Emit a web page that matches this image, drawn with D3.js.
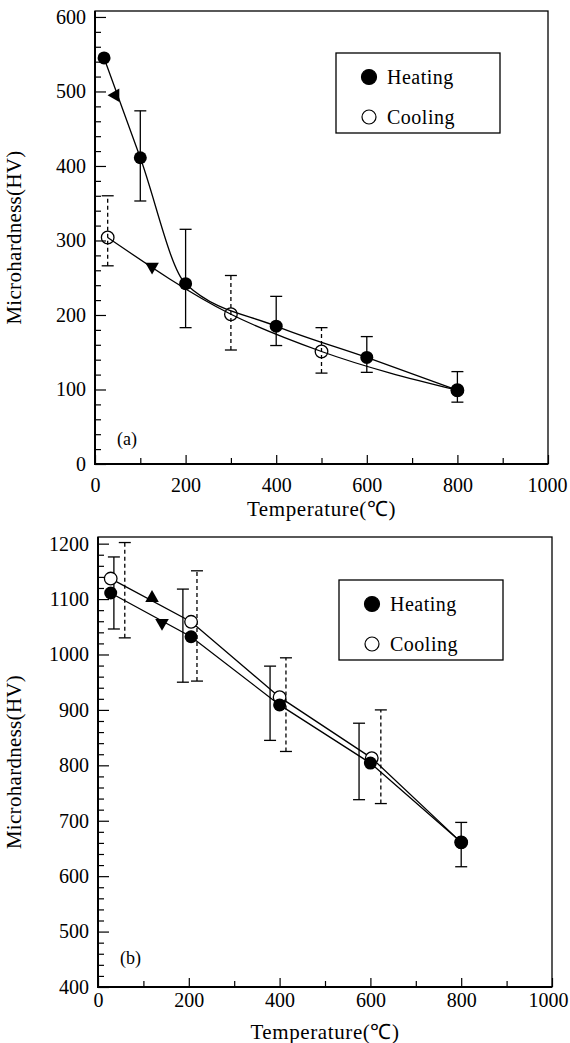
<!DOCTYPE html>
<html>
<head>
<meta charset="utf-8">
<script src="https://cdn.jsdelivr.net/npm/d3@7"></script>
<style>
  body { margin: 0; background: #fff; }
  svg { display: block; }
</style>
</head>
<body>
<div id="graphDiv"></div>
<script>
// ---- data, panel (a)
const tempHeatA = [20, 100, 200, 400, 600, 800]
const hvHeatA = [545, 411, 242, 185, 143, 99]
const errHeatA = [null, [353, 474], [183, 315], [159, 225], [123, 171], [83, 124]]

const tempCoolA = [28, 300, 500, 800]
const hvCoolA = [304, 201, 151, 99]
const errCoolA = [[266, 360], [153, 253], [122, 183], null]

const arrowTempA = [45, 126]
const arrowHvA = [495, 265]
const arrowDirA = ["left", "down"]

// ---- data, panel (b)
const tempHeatB = [28, 205, 400, 600, 800]
const hvHeatB = [1111, 1032, 909, 804, 661]
const errTempHeatB = [35, 187, 379, 575, 800]
const errHeatB = [[1046, 1176], [950, 1118], [845, 979], [738, 876], [617, 697]]

const tempCoolB = [28, 205, 400, 603, 800]
const hvCoolB = [1137, 1059, 923, 813, 661]
const errTempCoolB = [59, 218, 414, 623]
const errCoolB = [[1030, 1202], [952, 1151], [825, 994], [731, 900]]

const arrowTempB = [119, 141]
const arrowHvB = [1102, 1057]
const arrowDirB = ["up", "down"]

// ---- ticks
const xTicks = [0, 200, 400, 600, 800, 1000]
const xMinorTicks = [100, 300, 500, 700, 900]
const yTicksA = [0, 100, 200, 300, 400, 500, 600]
const yTicksB = [400, 500, 600, 700, 800, 900, 1000, 1100, 1200]

const legendNames = ["Heating", "Cooling"]

const W = 570, H = 1043
const serif = "'Liberation Serif', 'Times New Roman', serif"

const svg = d3.select("#graphDiv")
    .append("svg")
    .attr("width", W)
    .attr("height", H)
    .attr("font-family", serif)

const rotation = { up: 0, down: 180, left: -90, right: 90 }

function styleAxis(a) {
    a.attr("font-family", null).attr("font-size", null)
    a.select(".domain").remove()
    a.selectAll("text")
        .style("font-family", serif)
        .style("font-size", "20px")
        .attr("fill", "#000")
}

function drawPanel(cfg) {
    const x = d3.scaleLinear().domain([0, 1000]).range([cfg.left, cfg.right])
    const y = d3.scaleLinear().domain(cfg.yDomain).range([cfg.bottom, cfg.top])

    const g = svg.append("g")

    // minor ticks every 20
    const yMinor = d3.range(cfg.yDomain[0], cfg.yTicks[cfg.yTicks.length - 1], 20)
        .filter(v => v % 100 !== 0)

    g.append("g")
        .attr("transform", `translate(${cfg.left},0)`)
        .call(d3.axisLeft(y).tickValues(yMinor).tickSize(-6).tickFormat(""))
        .call(styleAxis)

    g.append("g")
        .attr("transform", `translate(${cfg.left},0)`)
        .call(d3.axisLeft(y).tickValues(cfg.yTicks).tickSize(-11).tickPadding(9).tickFormat(d3.format("d")))
        .call(styleAxis)

    g.append("g")
        .attr("transform", `translate(0,${cfg.bottom})`)
        .call(d3.axisBottom(x).tickValues(xMinorTicks).tickSize(-6).tickFormat(""))
        .call(styleAxis)

    g.append("g")
        .attr("transform", `translate(0,${cfg.bottom})`)
        .call(d3.axisBottom(x).tickValues(xTicks).tickSize(-9).tickFormat(d3.format("d")))
        .call(styleAxis)
        .selectAll("text")
        .attr("dy", null)
        .attr("y", cfg.xLabelOffset)
        .attr("dx", d => d === 1000 ? cfg.lastLabelShift : null)

    g.selectAll(".tick line").attr("stroke", "#000").attr("stroke-width", 1.2)

    // frame
    g.append("rect")
        .attr("x", cfg.left).attr("y", cfg.frameTop)
        .attr("width", cfg.right - cfg.left).attr("height", cfg.bottom - cfg.frameTop)
        .attr("fill", "none").attr("stroke", "#000").attr("stroke-width", 1.3)
    g.append("path")
        .attr("d", `M${cfg.left},${cfg.frameTop}V${cfg.bottom}H${cfg.right}`)
        .attr("fill", "none").attr("stroke", "#000").attr("stroke-width", 2)

    // titles
    g.append("text")
        .attr("font-size", 21)
        .attr("letter-spacing", 0.6)
        .attr("text-anchor", "middle")
        .attr("x", (cfg.left + cfg.right) / 2)
        .attr("y", cfg.bottom + 52)
        .text("Temperature(℃)")

    g.append("text")
        .attr("font-size", 21)
        .attr("letter-spacing", 0.3)
        .attr("text-anchor", "middle")
        .attr("transform", `translate(21,${(cfg.frameTop + cfg.bottom) / 2}) rotate(-90)`)
        .text("Microhardness(HV)")

    g.append("text")
        .attr("font-size", 18)
        .attr("x", cfg.left + 22)
        .attr("y", cfg.bottom - cfg.labelLift)
        .text(cfg.label)

    // lines
    const line = d3.line()
        .x(d => x(d[0]))
        .y(d => y(d[1]))
        .curve(cfg.curve)

    const heat = cfg.tempHeat.map((t, i) => [t, cfg.hvHeat[i]])
    const cool = cfg.tempCool.map((t, i) => [t, cfg.hvCool[i]])

    g.append("path").attr("d", line(heat))
        .attr("fill", "none").attr("stroke", "#000").attr("stroke-width", 1.3)
    g.append("path").attr("d", line(cool))
        .attr("fill", "none").attr("stroke", "#000").attr("stroke-width", 1.3)

    // error bars
    const drawErr = (temps, errs, dashed) => {
        temps.forEach((t, i) => {
            const e = errs[i]
            if (!e) return
            const cx = x(t)
            const eg = g.append("g")
                .attr("stroke", "#000").attr("stroke-width", 1.3)
            eg.append("line")
                .attr("x1", cx).attr("x2", cx)
                .attr("y1", y(e[0])).attr("y2", y(e[1]))
                .attr("stroke-dasharray", dashed ? "4,3" : null)
            e.forEach(v => {
                eg.append("line")
                    .attr("x1", cx - 6).attr("x2", cx + 6)
                    .attr("y1", y(v)).attr("y2", y(v))
            })
        })
    }
    drawErr(cfg.errTempHeat, cfg.errHeat, false)
    drawErr(cfg.errTempCool, cfg.errCool, true)

    // markers
    g.selectAll(".coolDot")
        .data(cool)
        .enter()
        .append("circle")
        .attr("cx", d => x(d[0])).attr("cy", d => y(d[1]))
        .attr("r", 6.3)
        .attr("fill", cfg.openFill).attr("stroke", "#000").attr("stroke-width", 1.3)

    g.selectAll(".heatDot")
        .data(heat)
        .enter()
        .append("circle")
        .attr("cx", d => x(d[0])).attr("cy", d => y(d[1]))
        .attr("r", 6.5)
        .attr("fill", "#000")

    const tri = d3.symbol().type(d3.symbolTriangle).size(80)
    cfg.arrowTemp.forEach((t, i) => {
        g.append("path")
            .attr("d", tri())
            .attr("transform", `translate(${x(t)},${y(cfg.arrowHv[i])}) rotate(${rotation[cfg.arrowDir[i]]})`)
            .attr("fill", "#000")
    })

    // legend
    const lx = cfg.left + 241, ly = cfg.frameTop + cfg.legendDrop
    const leg = g.append("g").attr("transform", `translate(${lx},${ly})`)
    leg.append("rect")
        .attr("width", 164).attr("height", 80)
        .attr("fill", "#fff").attr("stroke", "#000").attr("stroke-width", 1.3)
    legendNames.forEach((name, i) => {
        const cy = i === 0 ? 24 : 64
        leg.append("circle")
            .attr("cx", 33).attr("cy", cy)
            .attr("r", i === 0 ? 7.5 : 7)
            .attr("fill", i === 0 ? "#000" : "#fff")
            .attr("stroke", "#000").attr("stroke-width", 1.2)
        leg.append("text")
            .attr("font-size", 20)
            .attr("letter-spacing", 0.5)
            .attr("x", 51).attr("y", cy + 7)
            .text(name)
    })
}

drawPanel({
    left: 95, right: 548, frameTop: 11, top: 11, bottom: 464,
    yDomain: [0, 608], yTicks: yTicksA, xLabelOffset: 28, lastLabelShift: -1,
    label: "(a)", labelLift: 19, legendDrop: 42,
    curve: d3.curveMonotoneX, openFill: "none",
    tempHeat: tempHeatA, hvHeat: hvHeatA, errTempHeat: tempHeatA, errHeat: errHeatA,
    tempCool: tempCoolA, hvCool: hvCoolA, errTempCool: tempCoolA, errCool: errCoolA,
    arrowTemp: arrowTempA, arrowHv: arrowHvA, arrowDir: arrowDirA
})

drawPanel({
    left: 98, right: 552, frameTop: 537, top: 537, bottom: 987,
    yDomain: [400, 1212], yTicks: yTicksB, xLabelOffset: 20, lastLabelShift: -4,
    label: "(b)", labelLift: 23, legendDrop: 43,
    curve: d3.curveLinear, openFill: "#fff",
    tempHeat: tempHeatB, hvHeat: hvHeatB, errTempHeat: errTempHeatB, errHeat: errHeatB,
    tempCool: tempCoolB, hvCool: hvCoolB, errTempCool: errTempCoolB, errCool: errCoolB,
    arrowTemp: arrowTempB, arrowHv: arrowHvB, arrowDir: arrowDirB
})
</script>
</body>
</html>
